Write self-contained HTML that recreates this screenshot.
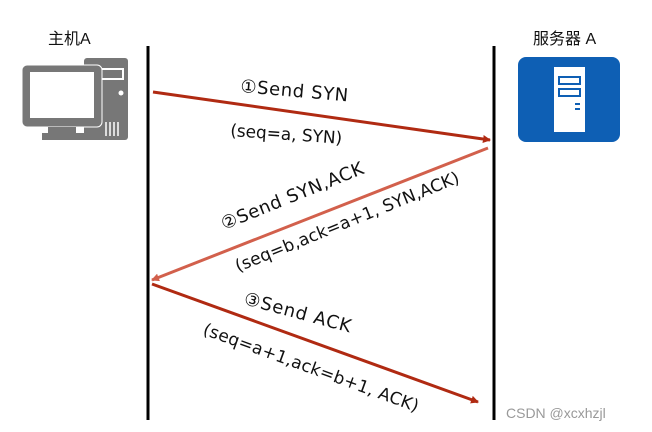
<!DOCTYPE html>
<html><head><meta charset="utf-8"><style>
html,body{margin:0;padding:0;background:#fff;}
svg{display:block;}
text{font-family:"DejaVu Sans","Noto Sans CJK SC",sans-serif;fill:#111;}
</style></head><body>
<svg width="652" height="432" viewBox="0 0 652 432" xmlns="http://www.w3.org/2000/svg">
<defs>
<marker id="a1" markerWidth="8" markerHeight="8" refX="7" refY="4" orient="auto" markerUnits="userSpaceOnUse"><path d="M0,0 L8,4 L0,8 Z" fill="#b02a12"/></marker>
<marker id="a2" markerWidth="8" markerHeight="8" refX="7" refY="4" orient="auto" markerUnits="userSpaceOnUse"><path d="M0,0 L8,4 L0,8 Z" fill="#d2604c"/></marker>
</defs>
<text x="48" y="44" font-size="16" style="font-family:'Liberation Sans','Noto Sans CJK SC',sans-serif">主机A</text>
<text x="533" y="44" font-size="16" style="font-family:'Liberation Sans','Noto Sans CJK SC',sans-serif">服务器 A</text>
<!-- computer -->
<rect x="84" y="58" width="44" height="82" rx="3" fill="#777"/>
<rect x="88" y="68" width="36" height="12" fill="#fff"/>
<rect x="90" y="70" width="32" height="8" fill="#777"/>
<circle cx="121" cy="93" r="2.5" fill="#fff"/>
<rect x="22" y="65" width="80" height="62" rx="5" fill="#777" stroke="#fff" stroke-width="1"/>
<rect x="30" y="72" width="64" height="46" fill="#fff"/>
<rect x="48" y="127" width="28" height="6" fill="#777"/>
<rect x="42" y="133" width="46" height="7" fill="#777"/>
<g stroke="#fff" stroke-width="1.5"><line x1="106" y1="122" x2="106" y2="136"/><line x1="110" y1="122" x2="110" y2="136"/><line x1="114" y1="122" x2="114" y2="136"/><line x1="118" y1="122" x2="118" y2="136"/></g>
<!-- server -->
<rect x="518" y="57" width="102" height="85" rx="8" fill="#0e5fb4"/>
<rect x="554" y="67" width="31" height="65" fill="#fff"/>
<rect x="559" y="77" width="21" height="7" fill="none" stroke="#0e5fb4" stroke-width="2"/>
<rect x="559" y="89" width="21" height="7" fill="none" stroke="#0e5fb4" stroke-width="2"/>
<rect x="575" y="103" width="5" height="2" fill="#0e5fb4"/>
<rect x="575" y="108" width="5" height="2" fill="#0e5fb4"/>
<!-- lifelines -->
<line x1="148" y1="46" x2="148" y2="420" stroke="#000" stroke-width="3"/>
<line x1="494" y1="46" x2="494" y2="420" stroke="#000" stroke-width="3"/>
<!-- arrows -->
<line x1="153" y1="92" x2="490" y2="140" stroke="#b02a12" stroke-width="3" marker-end="url(#a1)"/>
<line x1="488" y1="148" x2="152" y2="280" stroke="#d2604c" stroke-width="3" marker-end="url(#a2)"/>
<line x1="152" y1="284" x2="478" y2="402" stroke="#b02a12" stroke-width="3" marker-end="url(#a1)"/>
<!-- labels -->
<text font-size="18" textLength="108" transform="translate(240,92) rotate(5)">①Send SYN</text>
<text font-size="17" textLength="112" transform="translate(230,136) rotate(4)">(seq=a, SYN)</text>
<text font-size="18" textLength="152" transform="translate(224,230) rotate(-22)">②Send SYN,ACK</text>
<text font-size="17" textLength="240" transform="translate(238,272) rotate(-22)">(seq=b,ack=a+1, SYN,ACK)</text>
<text font-size="18" textLength="110" transform="translate(243,304) rotate(15)">③Send ACK</text>
<text font-size="17" textLength="228" transform="translate(202,334) rotate(20)">(seq=a+1,ack=b+1, ACK)</text>
<text x="506" y="418" font-size="14" style="fill:#999;font-family:'Liberation Sans',sans-serif">CSDN @xcxhzjl</text>
</svg>
</body></html>
